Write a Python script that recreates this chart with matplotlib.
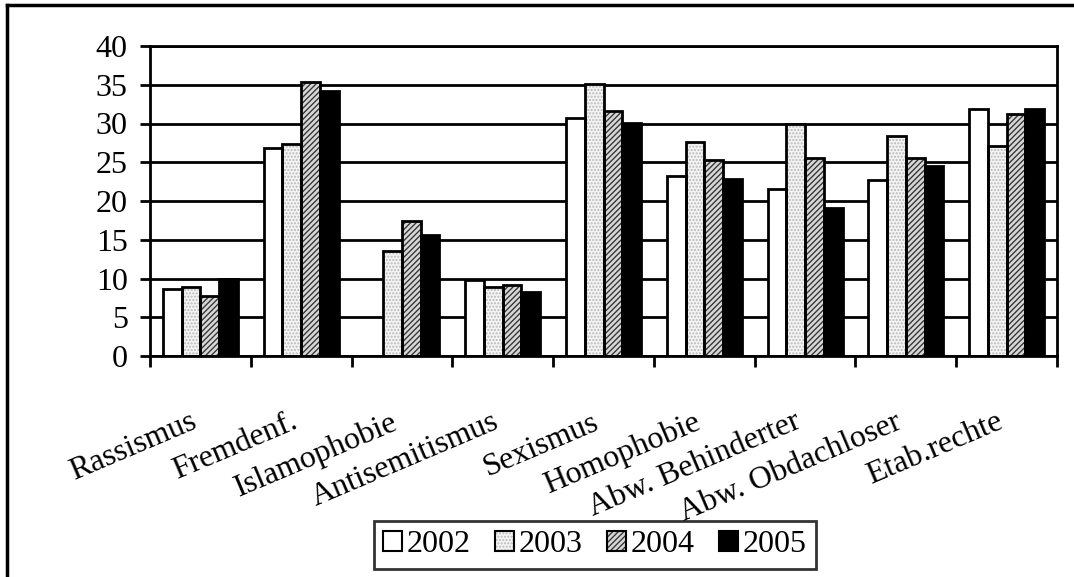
"""Bar chart: Abwertung nach Gruppen, 2002-2005."""

import numpy as np
import matplotlib
matplotlib.use("Agg")
import matplotlib.pyplot as plt
import matplotlib.transforms as mtransforms
from matplotlib.patches import Patch
from matplotlib.lines import Line2D

categories = ["Rassismus", "Fremdenf.", "Islamophobie", "Antisemitismus",
              "Sexismus", "Homophobie", "Abw. Behinderter", "Abw. Obdachloser",
              "Etab.rechte"]
years = ["2002", "2003", "2004", "2005"]

v2002 = [8.7, 26.9, 0.0, 9.8, 30.7, 23.2, 21.6, 22.7, 31.9]
v2003 = [8.9, 27.3, 13.5, 8.9, 35.1, 27.6, 30.0, 28.4, 27.1]
v2004 = [7.8, 35.4, 17.4, 9.2, 31.6, 25.3, 25.6, 25.5, 31.2]
v2005 = [10.0, 34.2, 15.6, 8.3, 30.1, 22.9, 19.1, 24.5, 31.9]
values = [v2002, v2003, v2004, v2005]

# face colour, hatch, hatch colour
styles = [("white", "", "black"),
          ("#f4f4f4", ".....", "#b8b8b8"),
          ("#d8d8d8", "//////", "#383838"),
          ("black", "", "black")]

plt.rcParams['font.family'] = ['Liberation Serif', 'DejaVu Serif']
plt.rcParams['hatch.linewidth'] = 1.0

fig = plt.figure(figsize=(10.74, 5.77), dpi=100)
ax = fig.add_axes([150 / 1074, 1 - 356 / 577, 907 / 1074, 310 / 577])

x = np.arange(len(categories))
w = 0.186
handles = []
for i, (vals, (fc, hatch, hc)) in enumerate(zip(values, styles)):
    pos = x + (i - 1.5) * w
    ax.bar(pos, vals, width=w, color=fc, hatch=hatch, edgecolor=hc,
           linewidth=0, zorder=2)
    ax.bar(pos, vals, width=w, fill=False, edgecolor="black",
           linewidth=2, zorder=3)
    handles.append((Patch(facecolor=fc, hatch=hatch, edgecolor=hc, linewidth=0),
                    Patch(fill=False, edgecolor="black", linewidth=1.5)))

ax.set_xlim(-0.5, len(categories) - 0.5)
ax.set_ylim(0, 40)
ax.set_yticks(np.arange(0, 41, 5))
ax.yaxis.grid(True, color="black", linewidth=2)
ax.set_axisbelow(True)
for s in ax.spines.values():
    s.set_linewidth(2)

ax.set_xticks(np.arange(-0.5, len(categories)), labels=[])
ax.set_xticks(x, labels=categories, minor=True)
ax.tick_params(axis="x", which="major", length=8, width=2, direction="out")
ax.tick_params(axis="x", which="minor", length=0, pad=37, labelsize=23)
ax.tick_params(axis="y", length=7, width=2, pad=9, labelsize=23)
shift = mtransforms.ScaledTranslation(-8 / 72, 0, fig.dpi_scale_trans)
for lab in ax.get_xticklabels(minor=True):
    lab.set_rotation(23)
    lab.set_ha("right")
    lab.set_va("top")
    lab.set_rotation_mode("anchor")
    lab.set_transform(lab.get_transform() + shift)

leg = fig.legend(handles, years, loc="lower center",
                 bbox_to_anchor=(595 / 1074, 1 - 569 / 577), ncol=4,
                 fontsize=23, frameon=True, fancybox=False,
                 handlelength=0.6, handleheight=0.6, handletextpad=0.15,
                 columnspacing=0.75, borderpad=0.3, borderaxespad=0)
leg.get_frame().set_edgecolor("black")
leg.get_frame().set_linewidth(2)

# outer chart frame (left and top edges visible)
fig.add_artist(Line2D([7 / 1074, 7 / 1074], [0, 1 - 5 / 577],
                      transform=fig.transFigure, color="black", linewidth=2.5))
fig.add_artist(Line2D([7 / 1074, 1], [1 - 5 / 577, 1 - 5 / 577],
                      transform=fig.transFigure, color="black", linewidth=2.5))

fig.savefig("out.png", dpi=100)
